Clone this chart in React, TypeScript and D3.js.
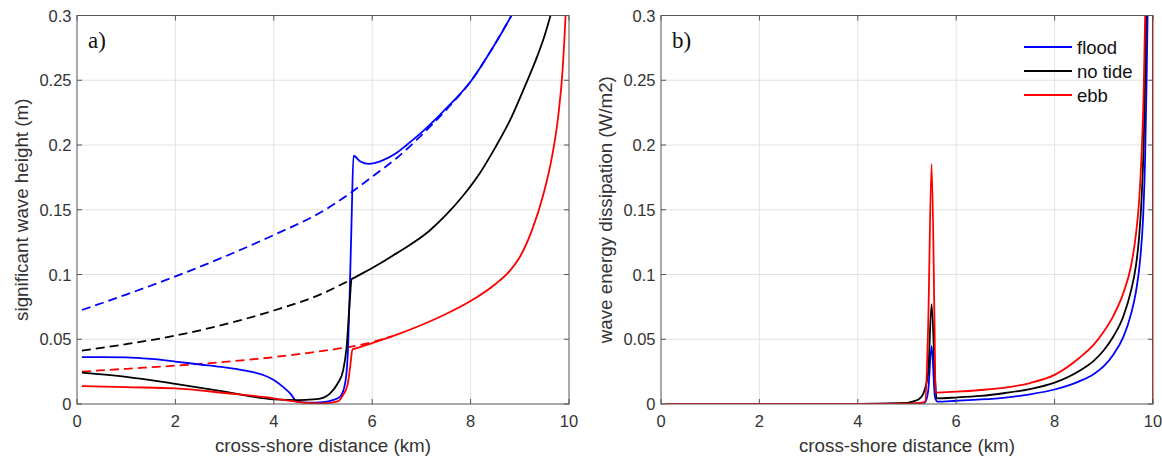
import React from "react";
import * as d3 from "d3";

// ---------- data ----------
const xTicks = [0, 2, 4, 6, 8, 10];
const yTicks = [0, 0.05, 0.1, 0.15, 0.2, 0.25, 0.3];
const yTickLabels = ["0", "0.05", "0.1", "0.15", "0.2", "0.25", "0.3"];

// panel a) significant wave height
const floodX = [0.1, 0.5, 1, 1.5, 2, 2.5, 3, 3.5, 3.8, 4, 4.2, 4.35, 4.47, 4.7, 5.0, 5.2, 5.35, 5.45, 5.51, 5.55, 5.58, 5.62, 5.75, 5.92, 6.2, 6.5, 6.7, 7.0, 7.5, 8.02, 8.4, 8.83, 8.9];
const floodH = [0.0362, 0.0362, 0.036, 0.0348, 0.0328, 0.0305, 0.0282, 0.0252, 0.0222, 0.0185, 0.0128, 0.0075, 0.0018, 0.001, 0.0015, 0.003, 0.0057, 0.016, 0.044, 0.096, 0.14, 0.1917, 0.1875, 0.1855, 0.188, 0.194, 0.2, 0.2095, 0.228, 0.25, 0.272, 0.3, 0.305];
const floodNoBrkX = [0.1, 1, 2, 3, 4, 5, 5.55, 6, 6.5, 7, 7.5, 8.02, 8.4, 8.83];
const floodNoBrkH = [0.0726, 0.0845, 0.0985, 0.1138, 0.1305, 0.149, 0.1627, 0.1755, 0.19, 0.2075, 0.227, 0.25, 0.272, 0.3];

const noTideX = [0.1, 1, 2, 3, 4, 4.5, 4.8, 5.0, 5.14, 5.3, 5.41, 5.48, 5.55, 5.58, 5.62, 6.0, 6.5, 7.17, 7.5, 7.85, 8.2, 8.5, 8.8, 9.1, 9.35, 9.5, 9.61, 9.7];
const noTideH = [0.0242, 0.021, 0.0155, 0.0095, 0.0036, 0.003, 0.0035, 0.0048, 0.008, 0.016, 0.026, 0.044, 0.083, 0.0963, 0.0972, 0.105, 0.1165, 0.134, 0.146, 0.161, 0.179, 0.198, 0.219, 0.245, 0.268, 0.284, 0.298, 0.311];
const noTideNoBrkX = [0.1, 1, 2, 3, 4, 5, 5.58];
const noTideNoBrkH = [0.0412, 0.0462, 0.0528, 0.0615, 0.0722, 0.0855, 0.0963];

const ebbX = [0.1, 1, 2, 3, 4, 4.5, 5.0, 5.3, 5.41, 5.5, 5.55, 5.6, 5.65, 6.0, 6.5, 7.0, 7.5, 8.0, 8.5, 8.8, 9.0, 9.24, 9.48, 9.65, 9.78, 9.87, 9.93, 9.97];
const ebbH = [0.0139, 0.013, 0.0121, 0.0085, 0.0044, 0.0015, 0.0005, 0.002, 0.007, 0.015, 0.028, 0.0422, 0.0428, 0.047, 0.0535, 0.061, 0.0695, 0.0795, 0.0925, 0.103, 0.1135, 0.1335, 0.162, 0.19, 0.222, 0.258, 0.3, 0.34];
const ebbNoBrkX = [0.1, 1, 2, 3, 4, 5, 5.48, 6.0, 6.4];
const ebbNoBrkH = [0.025, 0.0272, 0.0296, 0.0325, 0.0362, 0.041, 0.0437, 0.0478, 0.0522];

// panel b) wave energy dissipation
const floodDX = [0.1, 1, 2, 3, 4, 5, 5.36, 5.43, 5.5, 5.57, 5.62, 6, 6.5, 7, 7.5, 8, 8.5, 8.8, 9.0, 9.2, 9.4, 9.55, 9.65, 9.74, 9.8, 9.84, 9.87, 9.89, 9.92];
const floodD = [0, 0, 0, 0, 0, 0.0002, 0.001, 0.01, 0.0448, 0.005, 0.0018, 0.0025, 0.0035, 0.005, 0.0075, 0.0112, 0.0175, 0.0232, 0.0292, 0.0385, 0.052, 0.069, 0.086, 0.112, 0.145, 0.19, 0.25, 0.3, 0.4];
const noTideDX = [0.1, 1, 2, 3, 4, 5, 5.13, 5.25, 5.33, 5.43, 5.5, 5.57, 5.6, 6, 6.5, 7, 7.5, 8, 8.5, 8.8, 9.0, 9.2, 9.4, 9.55, 9.65, 9.72, 9.77, 9.81, 9.84, 9.86, 9.88];
const noTideD = [0, 0, 0, 0, 0, 0.0008, 0.002, 0.004, 0.008, 0.024, 0.0772, 0.02, 0.0044, 0.005, 0.0062, 0.0085, 0.0115, 0.0165, 0.0255, 0.0335, 0.0415, 0.0525, 0.068, 0.087, 0.106, 0.13, 0.16, 0.2, 0.25, 0.3, 0.4];
const ebbDX = [0.1, 1, 2, 3, 4, 5, 5.3, 5.37, 5.43, 5.5, 5.56, 5.58, 6, 6.5, 7, 7.5, 8, 8.5, 8.8, 9.0, 9.2, 9.4, 9.55, 9.65, 9.72, 9.77, 9.81, 9.84, 9.99, 10];
const ebbD = [0, 0, 0, 0, 0, 0.0002, 0.001, 0.002, 0.06, 0.1853, 0.06, 0.0088, 0.0095, 0.0108, 0.0127, 0.0162, 0.0225, 0.0355, 0.046, 0.056, 0.0685, 0.086, 0.106, 0.13, 0.158, 0.195, 0.24, 0.3, 1.0, 0];

const legendNames = ["flood", "no tide", "ebb"];
const legendColors = ["#0000ff", "#000000", "#ff0000"];

// ---------- layout ----------
const W = 1162;
const H = 458;
const top = 15.5;
const bottom = 404;
const panels = [
  { left: 77, right: 569, label: "a)", ylabel: "significant wave height (m)", ylabelX: 21 },
  { left: 661, right: 1153, label: "b)", ylabel: "wave energy dissipation (W/m2)", ylabelX: 605 },
];

const FONT = "'Liberation Sans', Arial, Helvetica, sans-serif";
const axisColor = "#555555";
const textColor = "#333333";
const gridColor = "#e2e2e2";

type Series = { xs: number[]; ys: number[]; color: string; dash?: string };

function Panel({ idx, series, legend }: { idx: number; series: Series[]; legend?: boolean }) {
  const p = panels[idx];
  const x = d3.scaleLinear().domain([0, 10]).range([p.left, p.right]);
  const y = d3.scaleLinear().domain([0, 0.3]).range([bottom, top]);
  const line = d3
    .line<[number, number]>()
    .x((d) => x(d[0]))
    .y((d) => y(d[1]))
    .curve(d3.curveMonotoneX);
  const clipId = `clip${idx}`;
  const tl = 5;
  return (
    <g>
      <defs>
        <clipPath id={clipId}>
          <rect x={p.left} y={top} width={p.right - p.left} height={bottom - top} />
        </clipPath>
      </defs>
      <rect x={p.left} y={top} width={p.right - p.left} height={bottom - top} fill="#fff" />
      {xTicks.slice(1, -1).map((t) => (
        <line key={"gx" + t} x1={x(t)} x2={x(t)} y1={top} y2={bottom} stroke={gridColor} strokeWidth={1} />
      ))}
      {yTicks.slice(1, -1).map((t) => (
        <line key={"gy" + t} x1={p.left} x2={p.right} y1={y(t)} y2={y(t)} stroke={gridColor} strokeWidth={1} />
      ))}
      <g clipPath={`url(#${clipId})`}>
        {series.map((s, i) => (
          <path
            key={i}
            d={line(s.xs.map((v, j) => [v, s.ys[j]] as [number, number])) || ""}
            fill="none"
            stroke={s.color}
            strokeWidth={1.8}
            strokeDasharray={s.dash}
            strokeLinejoin="round"
          />
        ))}
      </g>
      <rect x={p.left} y={top} width={p.right - p.left} height={bottom - top} fill="none" stroke={axisColor} strokeWidth={1} />
      {xTicks.map((t) => (
        <g key={"tx" + t}>
          <line x1={x(t)} x2={x(t)} y1={bottom} y2={bottom - tl} stroke={axisColor} />
          <line x1={x(t)} x2={x(t)} y1={top} y2={top + tl} stroke={axisColor} />
          <text x={x(t)} y={421} textAnchor="middle" dominantBaseline="central" fontFamily={FONT} fontSize={16.5} fill={textColor}>
            {t}
          </text>
        </g>
      ))}
      {yTicks.map((t, i) => (
        <g key={"ty" + t}>
          <line x1={p.left} x2={p.left + tl} y1={y(t)} y2={y(t)} stroke={axisColor} />
          <line x1={p.right} x2={p.right - tl} y1={y(t)} y2={y(t)} stroke={axisColor} />
          <text x={p.left - 5.5} y={y(t)} textAnchor="end" dominantBaseline="central" fontFamily={FONT} fontSize={16.5} fill={textColor}>
            {yTickLabels[i]}
          </text>
        </g>
      ))}
      <text x={(p.left + p.right) / 2} y={445} textAnchor="middle" dominantBaseline="central" fontFamily={FONT} fontSize={18.8} fill={textColor}>
        cross-shore distance (km)
      </text>
      <text
        transform={`translate(${p.ylabelX},${(top + bottom) / 2}) rotate(-90)`}
        textAnchor="middle"
        dominantBaseline="central"
        fontFamily={FONT}
        fontSize={18.8}
        fill={textColor}
      >
        {p.ylabel}
      </text>
      <text x={p.left + 11} y={48} fontFamily="'Liberation Serif', 'Times New Roman', serif" fontSize={23} fill="#111">
        {p.label}
      </text>
      {legend &&
        legendNames.map((n, i) => (
          <g key={n}>
            <line x1={1024} x2={1072} y1={47 + i * 24} y2={47 + i * 24} stroke={legendColors[i]} strokeWidth={1.8} />
            <text x={1077} y={47 + i * 24} dominantBaseline="central" fontFamily={FONT} fontSize={18.5} fill="#111">
              {n}
            </text>
          </g>
        ))}
    </g>
  );
}

export default function App() {
  const dash = "9,5";
  const seriesA: Series[] = [
    { xs: floodNoBrkX, ys: floodNoBrkH, color: "#0000ff", dash },
    { xs: noTideNoBrkX, ys: noTideNoBrkH, color: "#000000", dash },
    { xs: ebbNoBrkX, ys: ebbNoBrkH, color: "#ff0000", dash },
    { xs: floodX, ys: floodH, color: "#0000ff" },
    { xs: noTideX, ys: noTideH, color: "#000000" },
    { xs: ebbX, ys: ebbH, color: "#ff0000" },
  ];
  const seriesB: Series[] = [
    { xs: floodDX, ys: floodD, color: "#0000ff" },
    { xs: noTideDX, ys: noTideD, color: "#000000" },
    { xs: ebbDX, ys: ebbD, color: "#ff0000" },
  ];
  return (
    <svg
      width={W}
      height={H}
      viewBox={`0 0 ${W} ${H}`}
      style={{ position: "absolute", left: 0, top: 0, background: "#fff" }}
    >
      <rect x={0} y={0} width={W} height={H} fill="#fff" />
      <Panel idx={0} series={seriesA} />
      <Panel idx={1} series={seriesB} legend />
    </svg>
  );
}
